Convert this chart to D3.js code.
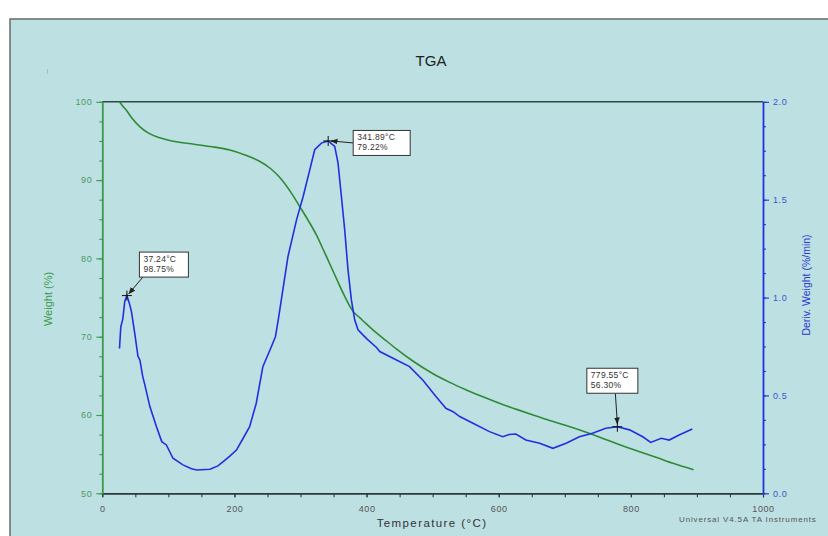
<!DOCTYPE html>
<html>
<head>
<meta charset="utf-8">
<script src="https://cdn.jsdelivr.net/npm/d3@7"></script>
<style>
  html, body { margin: 0; padding: 0; background: #ffffff; }
  svg { display: block; font-family: "Liberation Sans", Arial, sans-serif; }
</style>
</head>
<body>
<svg id="chart" width="828" height="536"></svg>
<script>
// ---- Data ----
const tempW = [26, 30, 37, 45, 57, 70, 87, 105, 128, 163, 193, 215, 238, 255, 269, 285, 299, 312, 324, 334, 344, 354, 364, 372, 380, 390, 400, 410, 428, 445, 470, 500, 525, 551, 575, 601, 626, 652, 677, 702, 727, 752, 780, 810, 838, 865, 895];
const weight = [100.0, 99.55, 98.85, 97.9, 96.8, 96.0, 95.4, 95.0, 94.7, 94.3, 93.85, 93.25, 92.4, 91.45, 90.3, 88.5, 86.6, 84.8, 83.0, 81.2, 79.35, 77.5, 75.65, 74.3, 73.2, 72.4, 71.6, 70.85, 69.6, 68.45, 66.9, 65.3, 64.2, 63.2, 62.35, 61.5, 60.75, 60.0, 59.3, 58.65, 57.95, 57.2, 56.3, 55.4, 54.6, 53.8, 53.0];

const tempD = [26, 28, 31, 34, 37.24, 41, 44, 49, 54, 57, 61, 65, 72, 82, 90, 97, 107, 122, 135, 143, 163, 175, 183, 193, 203, 213, 223, 233, 243, 256, 262, 266, 271, 281, 294, 304, 314, 321.5, 331.6, 341.89, 351.8, 356.8, 361.9, 366.9, 371.9, 377, 382, 387, 400, 415, 420, 440, 465, 485, 505, 520, 531, 541, 561, 586, 606, 616, 626, 641, 662, 682, 702, 722, 742, 762, 779.55, 798, 818, 830, 846, 858, 873, 893];
const deriv = [0.74, 0.85, 0.89, 0.98, 1.01, 0.97, 0.93, 0.82, 0.70, 0.68, 0.60, 0.545, 0.443, 0.340, 0.264, 0.247, 0.179, 0.145, 0.125, 0.119, 0.123, 0.140, 0.162, 0.19, 0.221, 0.28, 0.340, 0.460, 0.647, 0.75, 0.80, 0.88, 0.99, 1.209, 1.397, 1.516, 1.652, 1.755, 1.789, 1.80, 1.772, 1.687, 1.516, 1.346, 1.141, 0.988, 0.886, 0.835, 0.79, 0.745, 0.724, 0.69, 0.647, 0.579, 0.494, 0.434, 0.417, 0.392, 0.358, 0.315, 0.289, 0.30, 0.303, 0.272, 0.256, 0.230, 0.256, 0.289, 0.307, 0.332, 0.34, 0.324, 0.289, 0.260, 0.281, 0.272, 0.298, 0.328];

const xTicks = [0, 200, 400, 600, 800, 1000];
const wTicks = [50, 60, 70, 80, 90, 100];
const dTicks = [0.0, 0.5, 1.0, 1.5, 2.0];

const annotTemps = [37.24, 341.89, 779.55];
const annotLabels = [["37.24°C", "98.75%"], ["341.89°C", "79.22%"], ["779.55°C", "56.30%"]];

// ---- Layout ----
const svg = d3.select("#chart");
const L = 102.3, R = 763, T = 101.8, B = 493.3;
const x = d3.scaleLinear().domain([0, 1000]).range([L, R]);
const yW = d3.scaleLinear().domain([50, 100]).range([B, T]);
const yD = d3.scaleLinear().domain([0, 2]).range([B, T]);

const bg = "#bde0e3";
svg.append("rect").attr("x", 10).attr("y", 19).attr("width", 830).attr("height", 530)
  .attr("fill", bg).attr("stroke", "#6a6a6a").attr("stroke-width", 1.5);

// tiny mark at top-left
svg.append("line").attr("x1", 47.5).attr("x2", 47.5).attr("y1", 69).attr("y2", 74)
  .attr("stroke", "#aab").attr("stroke-width", 0.8);

// Title
svg.append("text").attr("x", 431).attr("y", 66).attr("text-anchor", "middle")
  .attr("font-size", 15).attr("fill", "#222").text("TGA");

// Top border
svg.append("line").attr("x1", L).attr("x2", R).attr("y1", T).attr("y2", T)
  .attr("stroke", "#2e4a3e").attr("stroke-width", 1.6);

function styleAxis(g, color, labelColor) {
  g.select(".domain").attr("stroke", color).attr("stroke-width", 1.8);
  g.selectAll(".tick line").attr("stroke", color).attr("stroke-width", 1.1);
  g.selectAll(".tick text").attr("fill", labelColor).attr("font-size", 9)
    .attr("letter-spacing", "0.6px").attr("font-family", "Liberation Sans, Arial, sans-serif");
}

// Bottom axis
const gxMinor = svg.append("g").attr("transform", `translate(0,${B})`)
  .call(d3.axisBottom(x).tickValues(d3.range(0, 1001, 50)).tickSize(4).tickFormat(""));
gxMinor.select(".domain").remove();
gxMinor.selectAll(".tick line").attr("stroke", "#2e3a3a").attr("stroke-width", 1.1);
const gx = svg.append("g").attr("transform", `translate(0,${B})`)
  .call(d3.axisBottom(x).tickValues(xTicks).tickSize(4).tickSizeOuter(0).tickPadding(8).tickFormat(d3.format("d")));
styleAxis(gx, "#2e3a3a", "#555");

// Left axis
const gyMinor = svg.append("g").attr("transform", `translate(${L},0)`)
  .call(d3.axisLeft(yW).tickValues(d3.range(50, 100.1, 2.5)).tickSize(3).tickFormat(""));
gyMinor.select(".domain").remove();
gyMinor.selectAll(".tick line").attr("stroke", "#3a9a4a").attr("stroke-width", 1.1);
const gy = svg.append("g").attr("transform", `translate(${L},0)`)
  .call(d3.axisLeft(yW).tickValues(wTicks).tickSize(6).tickSizeOuter(0).tickPadding(4).tickFormat(d3.format("d")));
styleAxis(gy, "#3a9a4a", "#4a9a5e");

// Right axis
const gdMinor = svg.append("g").attr("transform", `translate(${R},0)`)
  .call(d3.axisRight(yD).tickValues(d3.range(0, 2.01, 0.125)).tickSize(3).tickFormat(""));
gdMinor.select(".domain").remove();
gdMinor.selectAll(".tick line").attr("stroke", "#2233dd").attr("stroke-width", 1.1);
const gd = svg.append("g").attr("transform", `translate(${R},0)`)
  .call(d3.axisRight(yD).tickValues(dTicks).tickSize(6).tickSizeOuter(0).tickPadding(4).tickFormat(d3.format(".1f")));
styleAxis(gd, "#2233dd", "#3a55cc");

// Axis titles
svg.append("text").attr("x", 432).attr("y", 527).attr("text-anchor", "middle")
  .attr("font-size", 11.5).attr("letter-spacing", "1.4px").attr("fill", "#333").text("Temperature (°C)");
svg.append("text").attr("transform", "translate(52,299) rotate(-90)").attr("text-anchor", "middle")
  .attr("font-size", 11).attr("fill", "#3a9a4a").text("Weight (%)");
svg.append("text").attr("transform", "translate(810,285) rotate(-90)").attr("text-anchor", "middle")
  .attr("font-size", 10.5).attr("fill", "#2a3ad0").text("Deriv. Weight (%/min)");
svg.append("text").attr("x", 679).attr("y", 522).attr("font-size", 8).attr("letter-spacing", "0.85px")
  .attr("fill", "#555").text("Universal V4.5A TA Instruments");

// Curves
const wData = tempW.map((t, i) => [t, weight[i]]);
const dData = tempD.map((t, i) => [t, deriv[i]]);
svg.append("path").datum(wData)
  .attr("d", d3.line().x(d => x(d[0])).y(d => yW(d[1])).curve(d3.curveMonotoneX))
  .attr("fill", "none").attr("stroke", "#2f8a35").attr("stroke-width", 1.6);
svg.append("path").datum(dData)
  .attr("d", d3.line().x(d => x(d[0])).y(d => yD(d[1])))
  .attr("fill", "none").attr("stroke", "#2030e0").attr("stroke-width", 1.6);

// Annotations
const defs = svg.append("defs");
defs.append("marker").attr("id", "arr").attr("viewBox", "0 0 10 10").attr("refX", 9).attr("refY", 5)
  .attr("markerWidth", 7).attr("markerHeight", 7).attr("orient", "auto-start-reverse")
  .append("path").attr("d", "M0,1 L10,5 L0,9 z").attr("fill", "#222");

const boxOff = [[12.5, -43.5], [25, -10.5], [-30.5, -58.5]];
const arrowStart = [[16, -18.5], [25, 2], [-2, -33.5]];
const arrowEnd = [[2, -2], [3, 0], [0, -3]];
const boxW = [49, 57, 51], boxH = 25;

annotTemps.forEach((t, i) => {
  const idx = tempD.indexOf(t);
  const px = x(t), py = yD(deriv[idx]);
  const bx = px + boxOff[i][0], by = py + boxOff[i][1];
  svg.append("line").attr("x1", px + arrowStart[i][0]).attr("y1", py + arrowStart[i][1])
    .attr("x2", px + arrowEnd[i][0]).attr("y2", py + arrowEnd[i][1])
    .attr("stroke", "#222").attr("stroke-width", 1).attr("marker-end", "url(#arr)");
  svg.append("rect").attr("x", bx).attr("y", by).attr("width", boxW[i]).attr("height", boxH)
    .attr("fill", "#fff").attr("stroke", "#333").attr("stroke-width", 1);
  annotLabels[i].forEach((s, j) => {
    svg.append("text").attr("x", bx + 4).attr("y", by + 10 + j * 10)
      .attr("font-size", 8.5).attr("letter-spacing", "0.3px").attr("fill", "#333").text(s);
  });
  svg.append("line").attr("x1", px - 5).attr("x2", px + 5).attr("y1", py).attr("y2", py)
    .attr("stroke", "#111").attr("stroke-width", 1);
  svg.append("line").attr("x1", px).attr("x2", px).attr("y1", py - 5).attr("y2", py + 5)
    .attr("stroke", "#111").attr("stroke-width", 1);
});
</script>
</body>
</html>
